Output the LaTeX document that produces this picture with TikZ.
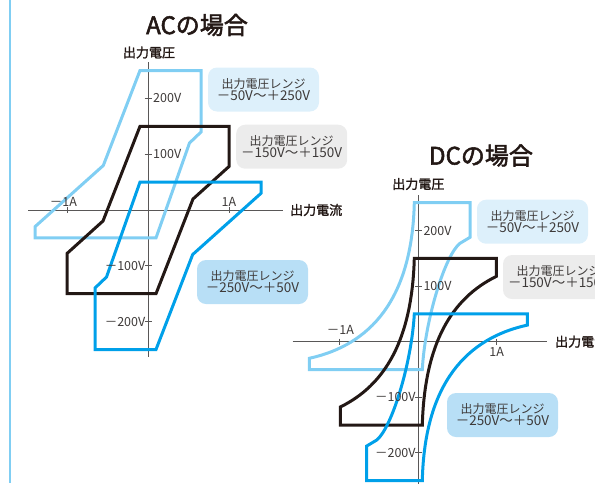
\documentclass[tikz,border=0pt]{standalone}
\usepackage{fontspec}
\setmainfont{Noto Sans CJK JP}
\newfontfamily\semibfont{Noto Sans CJK JP}[FakeBold=1.6]
\newfontfamily\titlefont{Noto Sans CJK JP}[FakeBold=2.2]
\definecolor{lbline}{HTML}{80CEF3}
\definecolor{dbline}{HTML}{00A0E9}
\definecolor{bkline}{HTML}{231815}
\definecolor{axisgray}{HTML}{595757}
\definecolor{txtgray}{HTML}{3E3A39}
\definecolor{lbfill}{HTML}{DDF0FB}
\definecolor{gyfill}{HTML}{ECECEC}
\definecolor{dbfill}{HTML}{B8DFF6}
\begin{document}
\begin{tikzpicture}[x=1pt,y=-1pt,
  axisline/.style={draw=axisgray, line width=0.9pt},
  lbpath/.style={draw=lbline, line width=3pt, line join=miter},
  dbpath/.style={draw=dbline, line width=3pt, line join=miter},
  bkpath/.style={draw=bkline, line width=3pt, line join=miter},
  tlab/.style={inner sep=0pt, text=txtgray, font=\fontsize{12.5}{12.5}\selectfont},
  alab/.style={inner sep=0pt, text=bkline, font=\fontsize{13}{13}\selectfont\semibfont},
  ttl/.style={inner sep=0pt, text=bkline, font=\fontsize{24}{24}\selectfont\titlefont},
  rbox/.style={rounded corners=9pt, inner sep=0pt, minimum width=111pt, minimum height=44pt, align=center, text=txtgray}
]
\useasboundingbox (0,0) rectangle (595,483);
% left border
\coordinate (bt) at (10,0);
\coordinate (bb) at (10,483);
\draw[draw=lbline, line width=2pt] (bt) -- (bb);

% ================= AC =================
\node[ttl] (actitle) at (197,25) {ACの場合};
\begin{scope}[shift={(148,210)}]
  \coordinate (acxl) at (-120,0);
  \coordinate (acxr) at (135,0);
  \coordinate (acyt) at (0,-148);
  \coordinate (acyb) at (0,147);
  \draw[axisline] (acxl) -- (acxr);
  \draw[axisline] (acyt) -- (acyb);
  \foreach \yy in {-111.6,-55.8,55.8,111.6} {\draw[axisline] (-3.5,\yy) -- (3.5,\yy);}
  \foreach \xx in {-81,81} {\draw[axisline] (\xx,-3) -- (\xx,3);}
  % shapes
  \draw[lbpath] (-8,-139.5) -- (53,-139.5) -- (53,-78) -- (41.5,-67) -- (8,27.9) -- (-113,27.9) -- (-113,16.7) -- (-44.7,-44.5) -- cycle;
  \draw[bkpath] (-8,-83.7) -- (81,-83.7) -- (81,-43.5) -- (45,-11) -- (8,83.7) -- (-81,83.7) -- (-81,43.5) -- (-45,11) -- cycle;
  \begin{scope}[rotate=180]
    \draw[dbpath] (-8,-139.5) -- (53,-139.5) -- (53,-78) -- (41.5,-67) -- (8,27.9) -- (-113,27.9) -- (-113,16.7) -- (-44.7,-44.5) -- cycle;
  \end{scope}
  % labels
  \node[tlab, anchor=west] (ac200) at (5,-111.6) {200V};
  \node[tlab, anchor=west] (ac100) at (5,-55.8) {100V};
  \node[tlab, anchor=east] (acm100) at (-2.5,55.8) {－100V};
  \node[tlab, anchor=east] (acm200) at (-2.5,111.6) {－200V};
  \node[tlab] (acm1a) at (-84.5,-8.5) {－1A};
  \node[tlab] (ac1a) at (81,-8.5) {1A};
  \node[alab] (acvlab) at (1,-157.5) {出力電圧};
  \node[alab, anchor=west] (acilab) at (142,0) {出力電流};
\end{scope}
\node[rbox, fill=lbfill] (acb1) at (263.5,89.5) {{\fontsize{12}{16}\selectfont 出力電圧レンジ}\\{\fontsize{13.5}{16}\selectfont －50V〜＋250V}};
\node[rbox, fill=gyfill] (acb2) at (291.7,146.7) {{\fontsize{12}{16}\selectfont 出力電圧レンジ}\\{\fontsize{13.5}{16}\selectfont －150V〜＋150V}};
\node[rbox, fill=dbfill] (acb3) at (252.5,282) {{\fontsize{12}{16}\selectfont 出力電圧レンジ}\\{\fontsize{13.5}{16}\selectfont －250V〜＋50V}};

% ================= DC =================
\node[ttl] (dctitle) at (481,155.5) {DCの場合};
\begin{scope}[shift={(418.3,341.7)}]
  \coordinate (dcxl) at (-125.6,0);
  \coordinate (dcxr) at (128.4,0);
  \coordinate (dcyt) at (0,-146.7);
  \coordinate (dcyb) at (0,150);
  \draw[axisline] (dcxl) -- (dcxr);
  \draw[axisline] (dcyt) -- (dcyb);
  \foreach \yy in {-111.2,-55.6,55.6,111.2} {\draw[axisline] (-3.5,\yy) -- (3.5,\yy);}
  \foreach \xx in {-78.5,78.5} {\draw[axisline] (\xx,-3) -- (\xx,3);}
  % shapes
  \draw[lbpath] (-109,16.6) .. controls (-48.3,3.3) and (-6.3,-41.7) .. (-4,-139) -- (51.7,-139) -- (51.7,-104.4) -- (41.7,-98.4) .. controls (26.7,-86.7) and (6.7,-21.7) .. (4,27.8) -- (-109,27.8) -- cycle;
  \draw[bkpath] (-78,65.3) .. controls (-33.3,43.3) and (-6.3,-1.7) .. (-4,-83.4) -- (78,-83.4) -- (78,-65.3) .. controls (33.3,-43.3) and (6.3,1.7) .. (4,83.4) -- (-78,83.4) -- cycle;
  \begin{scope}[rotate=180]
    \draw[dbpath] (-109,16.6) .. controls (-48.3,3.3) and (-6.3,-41.7) .. (-4,-139) -- (51.7,-139) -- (51.7,-104.4) -- (41.7,-98.4) .. controls (26.7,-86.7) and (6.7,-21.7) .. (4,27.8) -- (-109,27.8) -- cycle;
  \end{scope}
  % labels
  \node[tlab, anchor=west] (dc200) at (5,-111.2) {200V};
  \node[tlab, anchor=west] (dc100) at (5,-55.6) {100V};
  \node[tlab, anchor=east] (dcm100) at (-2.5,55.6) {－100V};
  \node[tlab, anchor=east] (dcm200) at (-2.5,111.2) {－200V};
  \node[tlab] (dcm1a) at (-77.8,-11.7) {－1A};
  \node[tlab] (dc1a) at (78.4,10) {1A};
  \node[alab] (dcvlab) at (0,-157.7) {出力電圧};
  \node[alab, anchor=west] (dcilab) at (136.7,0) {出力電流};
\end{scope}
\node[rbox, fill=lbfill] (dcb1) at (532.5,221.7) {{\fontsize{12}{16}\selectfont 出力電圧レンジ}\\{\fontsize{13.5}{16}\selectfont －50V〜＋250V}};
\node[rbox, fill=gyfill] (dcb2) at (558.5,277) {{\fontsize{12}{16}\selectfont 出力電圧レンジ}\\{\fontsize{13.5}{16}\selectfont －150V〜＋150V}};
\node[rbox, fill=dbfill] (dcb3) at (502.5,415) {{\fontsize{12}{16}\selectfont 出力電圧レンジ}\\{\fontsize{13.5}{16}\selectfont －250V〜＋50V}};
\end{tikzpicture}
\end{document}
